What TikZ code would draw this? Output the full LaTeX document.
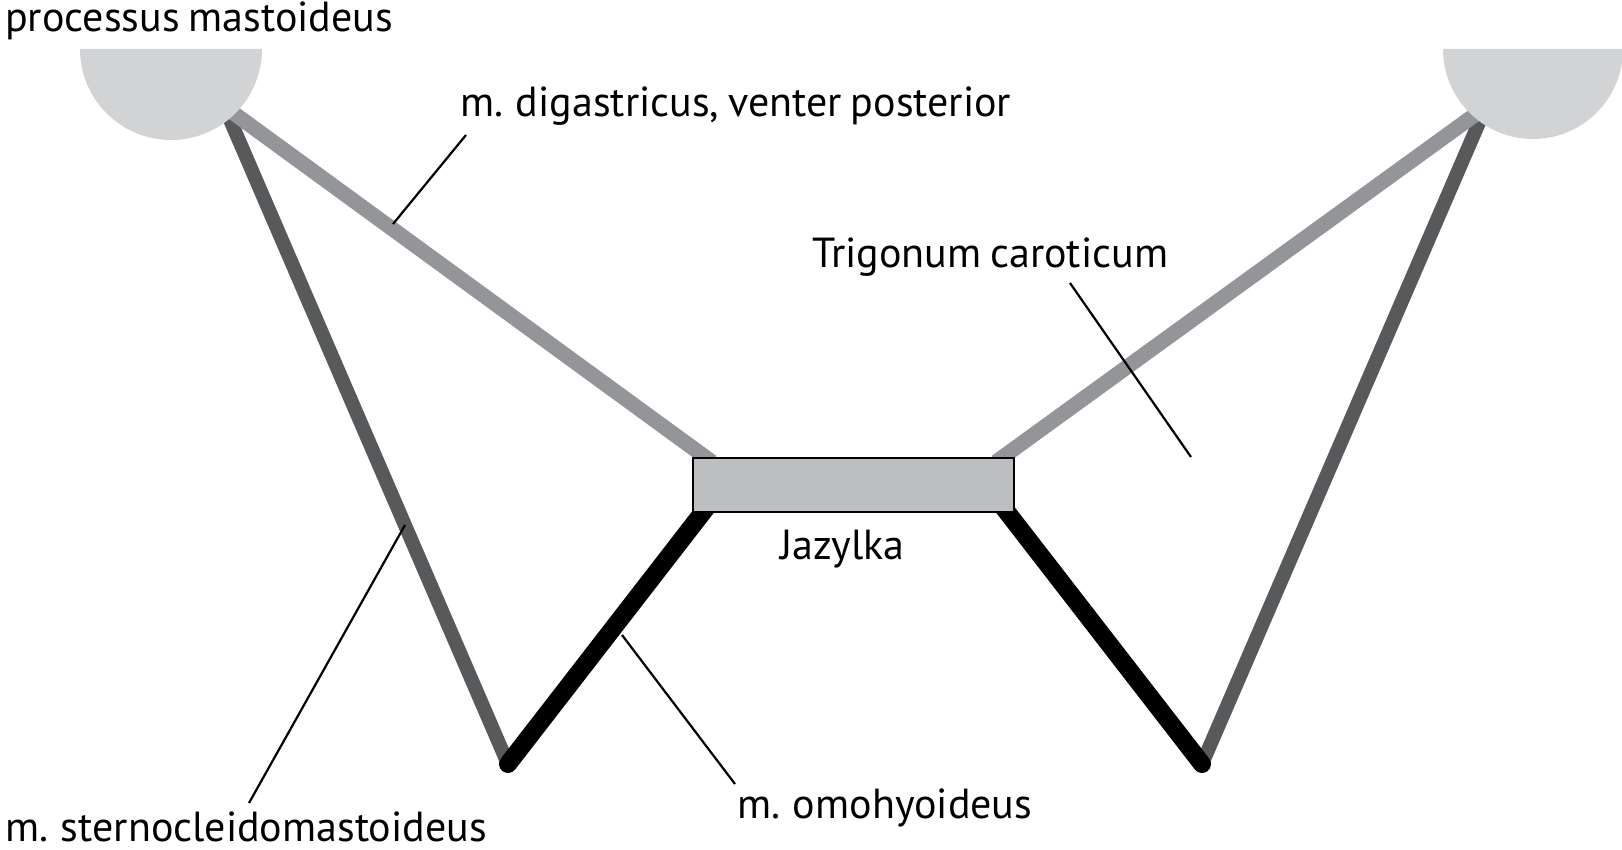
\documentclass[tikz,border=0pt]{standalone}
\usepackage{fontspec}
\setmainfont[WordSpace=0.8]{PT Sans}
\definecolor{mastc}{HTML}{D1D3D4}
\definecolor{digc}{HTML}{939598}
\definecolor{scmc}{HTML}{58595B}
\definecolor{hyoc}{HTML}{BCBEC0}
\tikzset{
  lbl/.style={anchor=base west, inner sep=0pt, font=\fontsize{42}{50}\selectfont},
  digline/.style={draw=digc, line width=15pt},
  scmline/.style={draw=scmc, line width=14pt, line cap=round},
  omoline/.style={draw=black, line width=18pt, line cap=round},
  leader/.style={draw=black, line width=2.2pt},
  bone/.style={fill=mastc},
}
\begin{document}
\begin{tikzpicture}[x=1pt, y=-1pt]
\useasboundingbox (0,0) rectangle (1622,850);
% anchor points
\coordinate (mL) at (228,115);
\coordinate (mLd) at (232,112);
\coordinate (mR) at (1481,118);
\coordinate (mRd) at (1476,114);
\coordinate (bL) at (508,764);
\coordinate (bR) at (1202,764);
\coordinate (hL) at (710,503);
\coordinate (hR) at (1000,503);
\coordinate (hLt) at (712,462);
\coordinate (hRt) at (996,462);
% muscles
\draw[scmline] (mL) -- (bL);
\draw[scmline] (mR) -- (bR);
\draw[digline] (mLd) -- (hLt);
\draw[digline] (mRd) -- (hRt);
\draw[omoline] (hL) -- (bL);
\draw[omoline] (hR) -- (bR);
% processus mastoideus
\fill[bone] (262,49) arc[start angle=0, end angle=180, radius=91] -- cycle;
\fill[bone] (1623,49) arc[start angle=0, end angle=180, radius=90] -- cycle;
% hyoid
\node[draw=black, line width=1.6pt, fill=hyoc, minimum width=321pt, minimum height=54pt, inner sep=0pt, anchor=north west] (hyo) at (692,457) {};
% labels
\node[lbl] (tpm) at (5,32) {processus mastoideus};
\node[lbl] (tdig) at (460,117) {m. digastricus, venter posterior};
\node[lbl] (ttc) at (812,268) {Trigonum caroticum};
\node[lbl] (tjaz) at (780,559) {Jazylka};
\node[lbl] (tomo) at (737,818) {m. omohyoideus};
\node[lbl] (tscm) at (5,841) {m. sternocleidomastoideus};
% leaders
\coordinate (ldA) at (466,135); \coordinate (ldB) at (393,224);
\coordinate (ltA) at (1070,283); \coordinate (ltB) at (1191,457);
\coordinate (loA) at (622,635); \coordinate (loB) at (735,784);
\coordinate (lsA) at (405,525); \coordinate (lsB) at (249,803);
\draw[leader] (ldA) -- (ldB);
\draw[leader] (ltA) -- (ltB);
\draw[leader] (loA) -- (loB);
\draw[leader] (lsA) -- (lsB);
\end{tikzpicture}
\end{document}
